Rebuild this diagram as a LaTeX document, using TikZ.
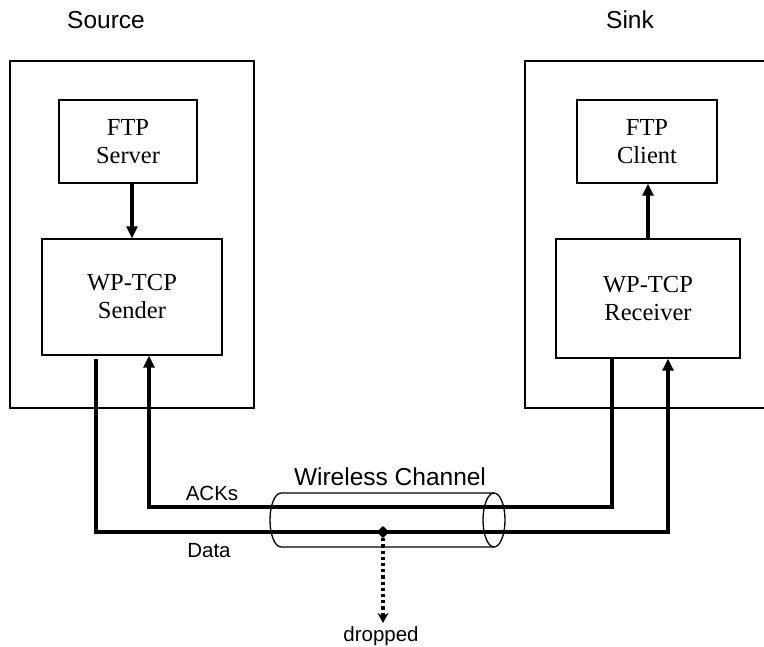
\documentclass[tikz,border=0pt]{standalone}
\usepackage{fontspec}
\setmainfont{Liberation Serif}
\newfontfamily\labelfont{Liberation Sans}
\usetikzlibrary{arrows.meta,shapes.geometric}
\tikzset{
  outerbox/.style={draw, line width=1.4pt, inner sep=0pt},
  innerbox/.style={draw, line width=1.4pt, inner sep=0pt, align=center,
    font=\fontsize{24.5}{28}\selectfont},
  conn/.style={line width=3.2pt},
  arr/.style={-{Triangle[length=12pt,width=11pt]}},
  bigtitle/.style={font=\labelfont\fontsize{24.5}{28}\selectfont, anchor=base, inner sep=0pt},
  smalltitle/.style={font=\labelfont\fontsize{20.5}{24}\selectfont, anchor=base, inner sep=0pt},
  cyl/.style={line width=1.3pt},
  droparrow/.style={line width=3.4pt, dash pattern=on 3.2pt off 3pt,
    -{Stealth[length=10pt,width=11pt]}}
}
\begin{document}
\begin{tikzpicture}[x=1pt,y=-1pt]
\useasboundingbox (0,0) rectangle (764,647);
% outer boxes
\node[outerbox, minimum width=244pt, minimum height=347pt] (source) at (132,234.5) {};
\node[outerbox, minimum width=243pt, minimum height=347pt] (sink) at (646.5,234.5) {};
% inner boxes
\node[innerbox, minimum width=138pt, minimum height=83pt] (server) at (128,141.5) {FTP\\Server};
\node[innerbox, minimum width=180pt, minimum height=116pt] (sender) at (132,297) {WP-TCP\\Sender};
\node[innerbox, minimum width=140pt, minimum height=83pt] (client) at (647,141.5) {FTP\\Client};
\node[innerbox, minimum width=184pt, minimum height=119pt] (receiver) at (648,298.5) {WP-TCP\\Receiver};
% titles
\node[bigtitle] (sourcelbl) at (106,29) {Source};
\node[bigtitle] (sinklbl) at (630,29) {Sink};
\node[bigtitle] (chanlbl) at (390,485) {Wireless Channel};
\node[smalltitle] (ackslbl) at (212,500) {ACKs};
\node[smalltitle] (datalbl) at (209,557) {Data};
\node[smalltitle] (droppedlbl) at (381,641) {dropped};
% vertical arrows inside hosts
\draw[conn, arr] (sender.north |- server.south) -- (sender.north);
\draw[conn, arr] (receiver.north) -- (receiver.north |- client.south);
% wireless channel cylinder
\coordinate (cTL) at (281,493);
\coordinate (cTR) at (494,493);
\coordinate (cBL) at (281,547);
\coordinate (cBR) at (494,547);
\coordinate (cRC) at (494,520);
\draw[cyl] (cBR) -- (cBL) arc[start angle=270, end angle=90, x radius=11pt, y radius=27pt] -- (cTR);
\draw[cyl] (cRC) ellipse[x radius=11pt, y radius=27pt];
% data path
\coordinate (dA) at (96,359);
\coordinate (dB) at (96,532);
\coordinate (dC) at (668,532);
\draw[conn, arr] (dA) -- (dB) -- (dC) -- (receiver.south -| dC);
% ACK path
\coordinate (aA) at (612,507);
\coordinate (aB) at (149,507);
\draw[conn, arr] (receiver.south -| aA) -- (aA) -- (aB) -- (sender.south -| aB);
% drop point
\node[diamond, fill, inner sep=0pt, minimum width=13pt, minimum height=12pt] (drop) at (383,532) {};
\coordinate (dropEnd) at (383,623);
\draw[droparrow] (drop.south) -- (dropEnd);
\end{tikzpicture}
\end{document}
